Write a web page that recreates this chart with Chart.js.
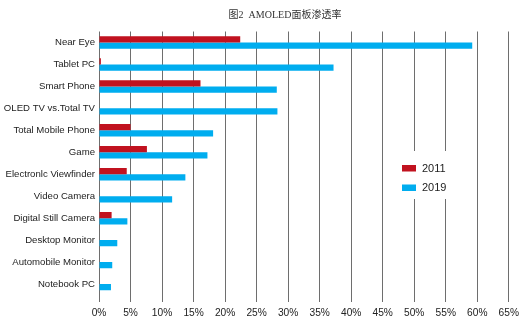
<!DOCTYPE html>
<html>
<head>
<meta charset="utf-8">
<script src="https://cdn.jsdelivr.net/npm/chart.js@4.4.0/dist/chart.umd.min.js"></script>
<style>
  body { margin: 0; background: #fff; }
  #wrap { position: relative; width: 524px; height: 331px; }
</style>
</head>
<body>
<div id="wrap"><canvas id="amoled_chart" width="524" height="331"></canvas></div>
<script>
var categories = [
  "Near Eye", "Tablet PC", "Smart Phone", "OLED TV vs.Total TV",
  "Total Mobile Phone", "Game", "Electronlc Viewfinder", "Video Camera",
  "Digital Still Camera", "Desktop Monitor", "Automobile Monitor", "Notebook PC"
];
var values2011 = [22.4, 0.3, 16.1, null, 5.0, 7.6, 4.4, null, 2.0, null, null, null];
var values2019 = [59.2, 37.2, 28.2, 28.3, 18.1, 17.2, 13.7, 11.6, 4.5, 2.9, 2.1, 1.9];
var seriesNames = ["2011", "2019"];
var seriesColors = ["#c1121f", "#00adef"];
var chartTitle = "图2  AMOLED面板渗透率";

// title and floating legend box drawn on top of the grid
var decorPlugin = {
  id: "decor",
  afterDraw: function (chart) {
    var c = chart.ctx;
    c.save();
    c.fillStyle = "#333";
    c.font = "10px 'Liberation Serif', 'Noto Sans CJK SC', serif";
    c.textAlign = "center";
    c.textBaseline = "middle";
    c.fillText(chartTitle, 285, 15);

    c.fillStyle = "#fff";
    c.fillRect(393, 151, 74, 48);
    c.font = "11px 'Liberation Sans', Arial, sans-serif";
    c.textAlign = "left";
    for (var i = 0; i < seriesNames.length; i++) {
      var y = 168 + i * 19.5;
      c.fillStyle = seriesColors[i];
      c.fillRect(402, y - 3, 14, 6.5);
      c.fillStyle = "#222";
      c.fillText(seriesNames[i], 422, y + 0.5);
    }
    c.restore();
  }
};

var ctx = document.getElementById("amoled_chart").getContext("2d");
var amoled_chart = new Chart(ctx, {
  type: "bar",
  data: {
    labels: categories,
    datasets: [
      {
        label: seriesNames[0],
        data: values2011,
        backgroundColor: seriesColors[0],
        borderWidth: 0,
      },
      {
        label: seriesNames[1],
        data: values2019,
        backgroundColor: seriesColors[1],
        borderWidth: 0,
      },
    ],
  },
  options: {
    indexAxis: "y",
    responsive: false,
    animation: false,
    categoryPercentage: 0.57,
    barPercentage: 1,
    layout: {
      padding: { top: 31.5, right: 14, bottom: 0, left: 0 },
    },
    scales: {
      x: {
        min: 0,
        max: 65,
        ticks: {
          stepSize: 5,
          padding: 5,
          color: "#222",
          font: { family: "'Liberation Sans', Arial, sans-serif", size: 10.2 },
          callback: function (v) { return v + "%"; },
        },
        grid: {
          color: "#6e6e6e",
          lineWidth: 1,
          drawTicks: true,
          tickLength: 7,
        },
        border: { display: false },
        afterFit: function (scale) { scale.height = 36; },
      },
      y: {
        grid: { display: false, drawTicks: false, tickLength: 0 },
        border: { display: false },
        ticks: {
          padding: 4,
          color: "#222",
          font: { family: "'Liberation Sans', Arial, sans-serif", size: 9.6 },
        },
        afterFit: function (scale) { scale.width = 99; },
      },
    },
    plugins: {
      legend: { display: false },
      tooltip: { enabled: false },
    },
  },
  plugins: [decorPlugin],
});
</script>
</body>
</html>
